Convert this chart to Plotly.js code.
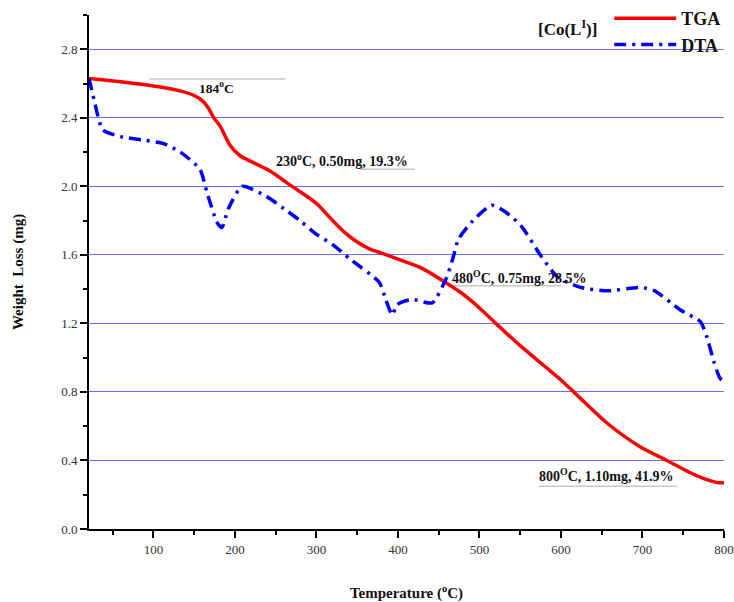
<!DOCTYPE html>
<html>
<head>
<meta charset="utf-8">
<script src="https://cdn.plot.ly/plotly-3.0.1.min.js"></script>
<style>html,body{margin:0;padding:0;background:#fff;}#chart{width:734px;height:602px;}</style>
</head>
<body>
<div id="chart"></div>
<script>
var tgaTemp = [21, 60, 100, 130, 150, 160, 167, 174, 182, 194, 206, 222, 243, 267, 300, 320, 335, 350, 365, 380, 400, 430, 458, 480, 500, 520, 550, 580, 600, 620, 656, 697, 730, 758, 778, 794, 800];
var tgaWeight = [2.63, 2.61, 2.585, 2.56, 2.53, 2.50, 2.46, 2.40, 2.35, 2.24, 2.18, 2.14, 2.09, 2.01, 1.90, 1.80, 1.73, 1.675, 1.635, 1.61, 1.575, 1.52, 1.44, 1.37, 1.29, 1.20, 1.07, 0.95, 0.87, 0.78, 0.62, 0.48, 0.40, 0.33, 0.29, 0.27, 0.27];
var dtaTemp = [21, 27, 38, 60, 88, 112, 133, 157, 166, 178, 184, 192, 209, 239, 260, 280, 300, 320, 340, 377, 385, 393, 399, 417, 442, 459, 468, 474, 490, 515, 532, 551, 576, 596, 624, 657, 698, 715, 746, 771, 779, 788, 795, 800];
var dtaValue = [2.63, 2.51, 2.33, 2.29, 2.27, 2.25, 2.20, 2.10, 1.96, 1.79, 1.76, 1.87, 2.00, 1.94, 1.87, 1.80, 1.72, 1.66, 1.58, 1.44, 1.34, 1.25, 1.31, 1.34, 1.32, 1.46, 1.59, 1.69, 1.79, 1.89, 1.85, 1.77, 1.59, 1.47, 1.41, 1.39, 1.41, 1.39, 1.28, 1.21, 1.12, 0.97, 0.88, 0.86];
var seriesNames = ["TGA", "DTA"];
var xTickVals = [100, 200, 300, 400, 500, 600, 700, 800];
var yTickVals = [0.0, 0.4, 0.8, 1.2, 1.6, 2.0, 2.4, 2.8];
var yTickText = ["0.0", "0.4", "0.8", "1.2", "1.6", "2.0", "2.4", "2.8"];
var noteTexts = ["184<sup>o</sup>C", "230<sup>o</sup>C, 0.50mg, 19.3%", "480<sup>O</sup>C, 0.75mg, 28.5%", "800<sup>O</sup>C, 1.10mg, 41.9%"];
var compoundLabel = "[Co(L<sup>I</sup>)]";

var serif = "Times New Roman, Liberation Serif, serif";

var traces = [
  {x: tgaTemp, y: tgaWeight, name: seriesNames[0], mode: "lines",
   line: {color: "#ff0000", width: 3.5, shape: "spline", smoothing: 0.8}},
  {x: dtaTemp, y: dtaValue, name: seriesNames[1], mode: "lines",
   line: {color: "#0000ff", width: 3.5, dash: "12px,6px,3px,6px", shape: "spline", smoothing: 0.6}}
];

var greyLine = {color: "#c8c8c8", width: 1.5};
var layout = {
  width: 734, height: 602,
  margin: {l: 89, r: 10, t: 15, b: 73, autoexpand: false},
  paper_bgcolor: "#ffffff", plot_bgcolor: "#ffffff",
  font: {family: serif, color: "#222"},
  showlegend: true,
  legend: {xref: "container", yref: "container", x: 0.830, y: 1.0, xanchor: "left", yanchor: "top", bgcolor: "rgba(0,0,0,0)",
           itemwidth: 62,
           font: {family: serif, size: 18, color: "#111", weight: "bold"}, tracegroupgap: 0},
  xaxis: {range: [21, 800], tickvals: xTickVals, ticks: "outside", ticklen: 7, tickwidth: 2, tickcolor: "#000",
          showline: true, linecolor: "#000", linewidth: 2, showgrid: false, zeroline: false,
          minor: {dtick: 50, tick0: 0, ticks: "outside", ticklen: 4, tickwidth: 2, tickcolor: "#000", showgrid: false},
          tickfont: {family: serif, size: 13, color: "#333"},
          title: {text: "<b>Temperature (<sup>o</sup>C)</b>", font: {family: serif, size: 15, color: "#111"}, standoff: 32}},
  yaxis: {range: [0, 3.0], tickvals: yTickVals, ticktext: yTickText, ticks: "outside", ticklen: 7, tickwidth: 2, tickcolor: "#000",
          showline: true, linecolor: "#000", linewidth: 2, showgrid: true, gridcolor: "#6b6bff", gridwidth: 1, zeroline: false,
          minor: {dtick: 0.2, tick0: 0, ticks: "outside", ticklen: 4, tickwidth: 2, tickcolor: "#000", showgrid: false},
          tickfont: {family: serif, size: 13, color: "#333"},
          title: {text: "<b>Weight  Loss (mg)</b>", font: {family: serif, size: 15, color: "#111"}, standoff: 34}},
  shapes: [
    {type: "line", xref: "x", yref: "y", x0: 95, x1: 262, y0: 2.627, y1: 2.627, line: greyLine, layer: "below"},
    {type: "line", xref: "x", yref: "y", x0: 354, x1: 421, y0: 2.10, y1: 2.10, line: greyLine, layer: "below"},
    {type: "line", xref: "x", yref: "y", x0: 467, x1: 600, y0: 1.42, y1: 1.42, line: greyLine, layer: "below"},
    {type: "line", xref: "x", yref: "y", x0: 573, x1: 742, y0: 0.25, y1: 0.25, line: greyLine, layer: "below"}
  ],
  annotations: [
    {xref: "x", yref: "y", x: 178, y: 2.575, text: "<b>" + noteTexts[0] + "</b>", showarrow: false, xanchor: "center", yanchor: "middle",
     font: {family: serif, size: 13.5, color: "#111"}},
    {xref: "x", yref: "y", x: 248, y: 2.155, text: "<b>" + noteTexts[1] + "</b>", showarrow: false, xanchor: "left", yanchor: "middle",
     font: {family: serif, size: 14, color: "#111"}},
    {xref: "x", yref: "y", x: 464, y: 1.47, text: "<b>" + noteTexts[2] + "</b>", showarrow: false, xanchor: "left", yanchor: "middle",
     font: {family: serif, size: 14, color: "#111"}},
    {xref: "x", yref: "y", x: 571, y: 0.315, text: "<b>" + noteTexts[3] + "</b>", showarrow: false, xanchor: "left", yanchor: "middle",
     font: {family: serif, size: 14, color: "#111"}},
    {xref: "paper", yref: "paper", x: 0.754, y: 0.975, text: "<b>" + compoundLabel + "</b>", showarrow: false, xanchor: "center", yanchor: "middle",
     font: {family: serif, size: 17, color: "#111"}}
  ]
};

Plotly.newPlot("chart", traces, layout, {displayModeBar: false, staticPlot: true});
</script>
</body>
</html>
